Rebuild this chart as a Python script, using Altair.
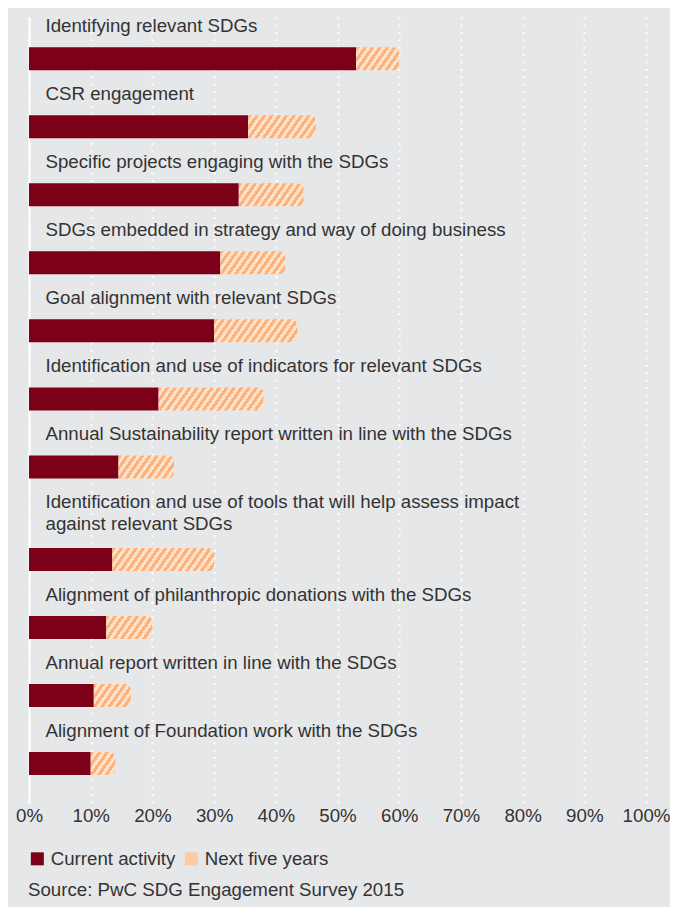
import math
import altair as alt
import pandas as pd

# ---------------- data ----------------
labels = [
    "Identifying relevant SDGs",
    "CSR engagement",
    "Specific projects engaging with the SDGs",
    "SDGs embedded in strategy and way of doing business",
    "Goal alignment with relevant SDGs",
    "Identification and use of indicators for relevant SDGs",
    "Annual Sustainability report written in line with the SDGs",
    "Identification and use of tools that will help assess impact\nagainst relevant SDGs",
    "Alignment of philanthropic donations with the SDGs",
    "Annual report written in line with the SDGs",
    "Alignment of Foundation work with the SDGs",
]
current_activity = [53, 35.5, 34, 31, 30, 21, 14.5, 13.5, 12.5, 10.5, 10]
next_five_years = [7, 11, 10.5, 10.5, 13.5, 17, 9, 16.5, 7.5, 6, 4]
tick_values = [0, 10, 20, 30, 40, 50, 60, 70, 80, 90, 100]
series_names = ["Current activity", "Next five years"]
source_text = "Source: PwC SDG Engagement Survey 2015"

# ---------------- style ----------------
FONT = "Liberation Sans"
FS = 18.7
BG = "#e6e7e9"
RED = "#7c0017"
ORANGE = "#fdb27d"
LIGHT = "#fee2c9"
PEACH = "#fdcba3"
TEXT = "#333333"
W = 617            # plot width in px
ROW = 68           # px per row
EXTRA = 0.36       # extra row units per additional label line
BAR = 23           # bar thickness px
THETA = math.radians(55)
PERIOD = 7.4       # horizontal stripe period px

rows = []
cum = 0
for i, lab in enumerate(labels):
    extra = lab.count("\n")
    cum += extra
    pos = i + EXTRA * cum
    rows.append(dict(
        label=lab,
        start=0,
        current=current_activity[i],
        total=current_activity[i] + next_five_years[i],
        pos=pos,
        label_pos=pos - EXTRA * extra,
        series=series_names[0],
    ))
df = pd.DataFrame(rows)

ymin = -0.613
ymax = df["pos"].max() + 0.58
H = round((ymax - ymin) * ROW)

xscale = alt.Scale(domain=[0, 100], nice=False, zero=True, padding=0)
yscale = alt.Scale(domain=[ymin, ymax], reverse=True, nice=False,
                   zero=False, padding=0)

xaxis = alt.Axis(
    values=tick_values, labelExpr="datum.value + '%'", grid=True,
    gridColor="white", gridDash=[2, 5.4], gridWidth=2, domain=False,
    ticks=False, tickSize=0, labelFontSize=FS, labelColor=TEXT,
    labelFont=FONT, labelPadding=3, labelFlush=False, title=None,
)
yaxis = alt.Axis(labels=False, ticks=False, grid=False, domain=True,
                 domainColor="white", domainWidth=2, title=None)

legend = alt.Legend(
    orient="none", legendX=-1, legendY=832, direction="horizontal",
    title=source_text, titleOrient="bottom", titleAnchor="start",
    titleAlign="left", titleFontSize=FS, titleFontWeight="normal",
    titleColor=TEXT, titleFont=FONT, titlePadding=11.5, titleLimit=700,
    labelFontSize=FS, labelColor=TEXT, labelFont=FONT, labelOffset=4,
    columnPadding=6, padding=0, symbolType="square", symbolSize=169,
    symbolStrokeWidth=0, labelLimit=400,
)

base = alt.Chart(df)

red = base.mark_bar(orient="horizontal", size=BAR).encode(
    x=alt.X("start:Q", scale=xscale, axis=xaxis, title=None),
    x2="current:Q",
    y=alt.Y("pos:Q", scale=yscale, axis=yaxis, title=None),
    color=alt.Color("series:N",
                    scale=alt.Scale(domain=series_names, range=[RED, PEACH]),
                    legend=legend),
)

text = base.mark_text(
    align="left", baseline="alphabetic", dx=16.5, dy=-26.5, fontSize=FS,
    color=TEXT, font=FONT, lineBreak="\n", lineHeight=22,
).encode(
    x=alt.X("start:Q", scale=xscale, title=None),
    y=alt.Y("label_pos:Q", scale=yscale, title=None),
    text="label:N",
)


def hatch(width_px, height_px):
    a = width_px * math.sin(THETA)
    b = height_px * math.cos(THETA)
    k = (a + b) / (a * a + b * b)
    n = (width_px + height_px / math.tan(THETA)) / PERIOD
    stops = []
    j = 0
    while j / n < 1:
        o0, o1, o2 = j / n, (j + 0.5) / n, (j + 1) / n
        stops.append({"offset": round(o0, 4), "color": ORANGE})
        stops.append({"offset": round(min(o1, 1), 4), "color": ORANGE})
        if o1 < 1:
            stops.append({"offset": round(o1, 4), "color": LIGHT})
            stops.append({"offset": round(min(o2, 1), 4), "color": LIGHT})
        j += 1
    return {"gradient": "linear", "x1": 0, "y1": 0,
            "x2": round(k * a, 4), "y2": round(k * b, 4), "stops": stops}


hatched = []
for i in range(len(df)):
    w_px = (df.loc[i, "total"] - df.loc[i, "current"]) * W / 100
    hatched.append(
        alt.Chart(df.iloc[[i]]).mark_bar(
            orient="horizontal", size=BAR, fill=hatch(w_px, BAR),
            cornerRadiusTopRight=6, cornerRadiusBottomRight=6,
        ).encode(
            x=alt.X("current:Q", scale=xscale, title=None),
            x2="total:Q",
            y=alt.Y("pos:Q", scale=yscale, title=None),
        )
    )

chart = alt.layer(red, *hatched, text).properties(
    width=W, height=H,
    padding={"left": 7, "top": 9, "right": 0, "bottom": 7},
).configure(background=BG, font=FONT).configure_view(stroke=None, fill=BG)

chart.save("out.html", embed_options={"renderer": "svg", "actions": False})
